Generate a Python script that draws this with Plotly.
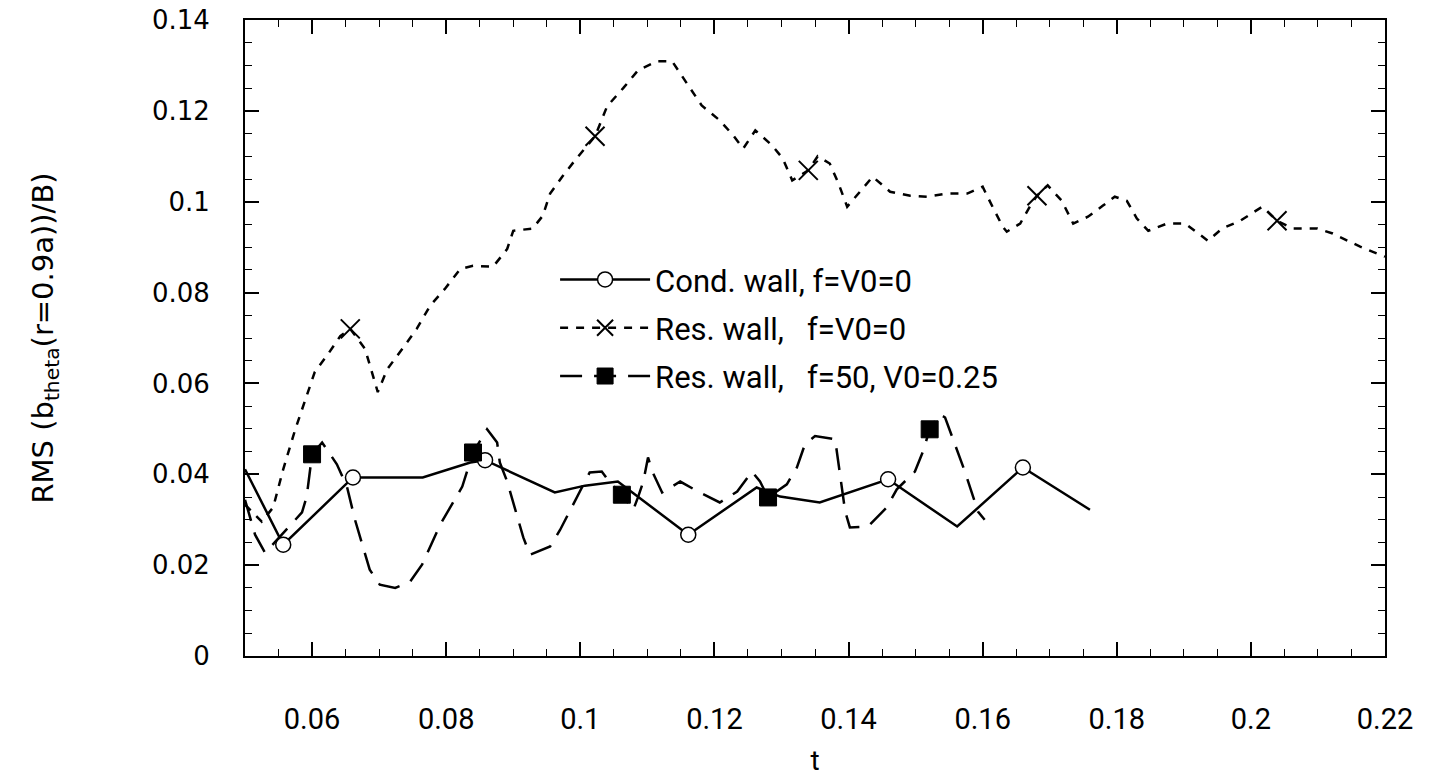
import plotly.graph_objects as go

# ---- Data ----
cond_t = [0.0500, 0.0557, 0.0661, 0.0765, 0.0836, 0.0858, 0.0962, 0.1007, 0.1056,
          0.1161, 0.1263, 0.1298, 0.1357, 0.1459, 0.1562, 0.1660, 0.1760]
cond_v = [0.0411, 0.0245, 0.0393, 0.0393, 0.0426, 0.0431, 0.0360, 0.0375, 0.0384,
          0.0267, 0.0371, 0.0351, 0.0338, 0.0389, 0.0285, 0.0415, 0.0322]
cond_marker_idx = [1, 2, 5, 9, 13, 15]

res_t = [0.0500, 0.0525, 0.0542, 0.0557, 0.0575, 0.0594, 0.0604, 0.0624, 0.0642, 0.0657,
         0.0679, 0.0698, 0.0712, 0.0742, 0.0756, 0.0776, 0.0798, 0.0821, 0.0840, 0.0870,
         0.0891, 0.0900, 0.0929, 0.0944, 0.0955, 0.0973, 0.0992, 0.1022, 0.1040, 0.1064,
         0.1086, 0.1114, 0.1137, 0.1161, 0.1181, 0.1208, 0.1228, 0.1243, 0.1261, 0.1286,
         0.1302, 0.1316, 0.1340, 0.1354, 0.1372, 0.1384, 0.1398, 0.1417, 0.1436, 0.1462,
         0.1492, 0.1517, 0.1548, 0.1577, 0.1600, 0.1614, 0.1630, 0.1636, 0.1656, 0.1671,
         0.1681, 0.1697, 0.1718, 0.1735, 0.1757, 0.1779, 0.1797, 0.1815, 0.1830, 0.1847,
         0.1875, 0.1902, 0.1936, 0.1957, 0.1984, 0.2017, 0.2039, 0.2063, 0.2099, 0.2122,
         0.2163, 0.2200]
res_v = [0.0333, 0.0296, 0.0327, 0.0411, 0.0499, 0.0581, 0.0625, 0.0665, 0.0704, 0.0720,
         0.0676, 0.0581, 0.0631, 0.0691, 0.0720, 0.0771, 0.0808, 0.0852, 0.0859, 0.0857,
         0.0896, 0.0936, 0.0941, 0.0969, 0.1018, 0.1055, 0.1091, 0.1144, 0.1210, 0.1250,
         0.1289, 0.1309, 0.1309, 0.1256, 0.1212, 0.1179, 0.1146, 0.1117, 0.1157, 0.1124,
         0.1095, 0.1047, 0.1069, 0.1100, 0.1084, 0.1044, 0.0989, 0.1022, 0.1055, 0.1022,
         0.1013, 0.1011, 0.1018, 0.1018, 0.1033, 0.0991, 0.0945, 0.0934, 0.0952, 0.0991,
         0.1013, 0.1036, 0.1002, 0.0952, 0.0967, 0.0991, 0.1011, 0.1002, 0.0963, 0.0936,
         0.0952, 0.0952, 0.0914, 0.0941, 0.0958, 0.0989, 0.0958, 0.0941, 0.0941, 0.0930,
         0.0901, 0.0879]
res_marker_idx = [9, 27, 42, 60, 76]

f50_t = [0.0500, 0.0515, 0.0530, 0.0585, 0.0592, 0.0600, 0.0615, 0.0637, 0.0652, 0.0664,
         0.0674, 0.0686, 0.0701, 0.0724, 0.0746, 0.0764, 0.0791, 0.0810, 0.0824, 0.0840,
         0.0861, 0.0876, 0.0880, 0.0891, 0.0900, 0.0915, 0.0925, 0.0955, 0.0970, 0.0988,
         0.1004, 0.1014, 0.1032, 0.1044, 0.1062, 0.1079, 0.1086, 0.1094, 0.1101, 0.1108,
         0.1122, 0.1149, 0.1178, 0.1208, 0.1234, 0.1256, 0.1268, 0.1280, 0.1308, 0.1323,
         0.1335, 0.1350, 0.1380, 0.1387, 0.1395, 0.1402, 0.1429, 0.1457, 0.1472, 0.1499,
         0.1511, 0.1521, 0.1536, 0.1544, 0.1554, 0.1574, 0.1593, 0.1603]
f50_v = [0.0344, 0.0267, 0.0227, 0.0316, 0.0351, 0.0444, 0.0470, 0.0422, 0.0373, 0.0300,
         0.0250, 0.0190, 0.0157, 0.0150, 0.0163, 0.0201, 0.0289, 0.0338, 0.0373, 0.0448,
         0.0499, 0.0470, 0.0426, 0.0384, 0.0338, 0.0261, 0.0223, 0.0241, 0.0278, 0.0329,
         0.0373, 0.0404, 0.0406, 0.0382, 0.0355, 0.0322, 0.0349, 0.0384, 0.0437, 0.0404,
         0.0360, 0.0384, 0.0360, 0.0338, 0.0362, 0.0406, 0.0384, 0.0349, 0.0378, 0.0415,
         0.0466, 0.0484, 0.0477, 0.0404, 0.0318, 0.0283, 0.0285, 0.0327, 0.0367, 0.0406,
         0.0450, 0.0499, 0.0532, 0.0525, 0.0484, 0.0404, 0.0318, 0.0300]
f50_marker_idx = [5, 19, 34, 47, 61]

names = ["Cond. wall, f=V0=0",
         "Res. wall,\u00a0\u00a0 f=V0=0",
         "Res. wall,\u00a0\u00a0 f=50, V0=0.25"]

x_ticks = [0.06, 0.08, 0.10, 0.12, 0.14, 0.16, 0.18, 0.20, 0.22]
y_ticks = [0, 0.02, 0.04, 0.06, 0.08, 0.10, 0.12, 0.14]

NARROW = "Roboto, Liberation Sans, sans-serif"
WIDE = "DejaVu Sans, Verdana, sans-serif"

series = [
    dict(t=cond_t, v=cond_v, idx=cond_marker_idx, name=names[0], dash="solid",
         marker=dict(symbol="circle", size=15, color="white",
                     line=dict(color="black", width=1.5))),
    dict(t=res_t, v=res_v, idx=res_marker_idx, name=names[1], dash="8px,8px",
         marker=dict(symbol="x-thin-open", size=19, color="black",
                     line=dict(color="black", width=2))),
    dict(t=f50_t, v=f50_v, idx=f50_marker_idx, name=names[2], dash="22px,12px",
         marker=dict(symbol="square", size=17, color="black",
                     line=dict(color="black", width=1))),
]

fig = go.Figure()
for k, s in enumerate(series):
    fig.add_trace(go.Scatter(x=s["t"], y=s["v"], mode="lines",
                             line=dict(color="black", width=2.5, dash=s["dash"]),
                             showlegend=False, hoverinfo="skip"))
    fig.add_trace(go.Scatter(x=[s["t"][i] for i in s["idx"]],
                             y=[s["v"][i] for i in s["idx"]],
                             mode="markers", marker=s["marker"], showlegend=False))
    # legend entry (line + marker)
    fig.add_trace(go.Scatter(x=[None], y=[None], mode="lines+markers", name=s["name"],
                             line=dict(color="black", width=2.5, dash=s["dash"]),
                             marker=s["marker"], legendgroup=f"g{k}"))

fig.update_layout(
    width=1434, height=777,
    margin=dict(l=245, r=49, t=20, b=121),
    paper_bgcolor="white", plot_bgcolor="white",
    showlegend=True,
    legend=dict(x=0.272, y=0.634, xanchor="left", yanchor="top",
                bgcolor="rgba(0,0,0,0)", borderwidth=0,
                font=dict(family=NARROW, size=31, color="black"),
                itemwidth=90, tracegroupgap=5, traceorder="grouped"),
    xaxis=dict(range=[0.05, 0.22], tickvals=x_ticks,
               ticktext=[("%g" % v) for v in x_ticks],
               ticks="inside", ticklen=14, tickwidth=1.5, tickcolor="black",
               minor=dict(ticks="inside", ticklen=7, tickwidth=1, tickcolor="black",
                          dtick=0.005, tick0=0.05, showgrid=False),
               showline=True, linewidth=2, linecolor="black", mirror="allticks",
               showgrid=False, zeroline=False, automargin=False,
               tickfont=dict(family=NARROW, size=29, color="black"),
               ticklabelstandoff=36,
               title=dict(text="t", font=dict(family=NARROW, size=28, color="black"),
                          standoff=20)),
    yaxis=dict(range=[0, 0.14], tickvals=y_ticks,
               ticktext=[("%g" % v) for v in y_ticks],
               ticks="inside", ticklen=14, tickwidth=1.5, tickcolor="black",
               minor=dict(ticks="inside", ticklen=7, tickwidth=1, tickcolor="black",
                          dtick=0.005, tick0=0, showgrid=False),
               showline=True, linewidth=2, linecolor="black", mirror="allticks",
               showgrid=False, zeroline=False, automargin=False,
               tickfont=dict(family=WIDE, size=26, color="black"),
               ticklabelstandoff=28,
               title=dict(text="RMS (b<sub>theta</sub>(r=0.9a))/B)",
                          font=dict(family=WIDE, size=29, color="black"),
                          standoff=90)),
)

fig.write_html("out.html")
